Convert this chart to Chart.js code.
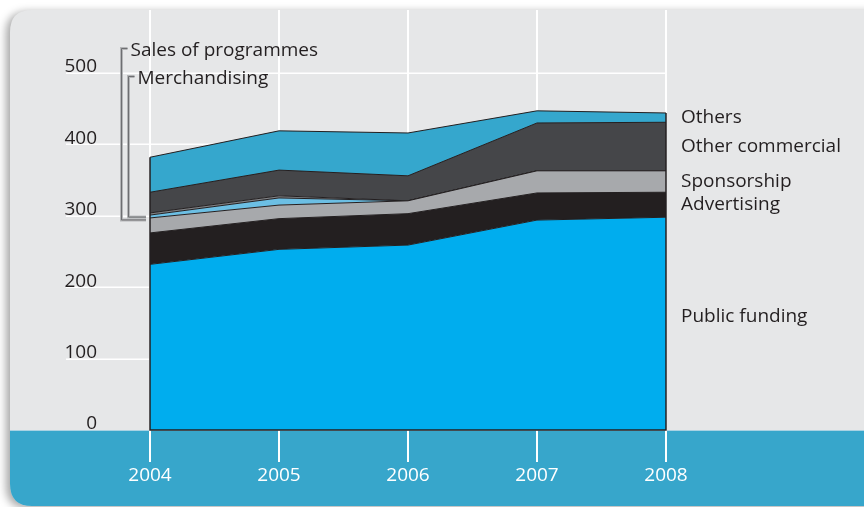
<!DOCTYPE html>
<html>
<head>
<meta charset="utf-8">
<script src="https://cdn.jsdelivr.net/npm/chart.js@4.4.1/dist/chart.umd.min.js"></script>
<style>
  html, body { margin: 0; padding: 0; background: #ffffff; }
  #wrap { position: relative; width: 864px; height: 507px; }
</style>
</head>
<body>
<div id="wrap"><canvas id="c" width="864" height="507"></canvas></div>
<script>
// ---- data ----
const years = ['2004', '2005', '2006', '2007', '2008'];
const publicFunding     = [232, 253, 259, 294, 298];
const advertising       = [44, 43, 44, 38, 35];
const sponsorship       = [21, 19, 18, 31, 30];
const salesOfProgrammes = [4, 10, 0, 0, 0];
const merchandising     = [3, 3, 0, 0, 0];
const otherCommercial   = [29, 36, 35, 67, 68];
const others            = [49, 55, 60, 17, 13];
const yTicks = [0, 100, 200, 300, 400, 500];

const FONT = '"Open Sans", "DejaVu Sans", sans-serif';
const INK = '#231f20';

function ds(label, data, color) {
  return {
    label, data,
    backgroundColor: color,
    borderColor: INK,
    borderWidth: 1,
    pointRadius: 0,
    tension: 0,
    fill: label === 'Public funding' ? 'origin' : '-1'
  };
}

function roundRectPath(ctx, x, y, w, h, r) {
  ctx.beginPath();
  ctx.moveTo(x + r, y);
  ctx.lineTo(x + w - r, y);
  ctx.quadraticCurveTo(x + w, y, x + w, y + r);
  ctx.lineTo(x + w, y + h - r);
  ctx.quadraticCurveTo(x + w, y + h, x + w - r, y + h);
  ctx.lineTo(x + r, y + h);
  ctx.quadraticCurveTo(x, y + h, x, y + h - r);
  ctx.lineTo(x, y + r);
  ctx.quadraticCurveTo(x, y, x + r, y);
  ctx.closePath();
}

const backdrop = {
  id: 'backdrop',
  beforeDraw(chart) {
    const ctx = chart.ctx;
    const area = chart.chartArea;
    const xs = chart.scales.x, ys = chart.scales.y;
    ctx.save();
    ctx.fillStyle = '#ffffff';
    ctx.fillRect(0, 0, chart.width, chart.height);
    // panel with shadow
    ctx.save();
    ctx.shadowColor = 'rgba(0,0,0,0.35)';
    ctx.shadowBlur = 9;
    ctx.shadowOffsetX = -4;
    ctx.shadowOffsetY = 2;
    roundRectPath(ctx, 10, 10, chart.width + 20, chart.height - 11, 22);
    ctx.fillStyle = '#e6e7e8';
    ctx.fill();
    ctx.restore();
    // bottom band
    ctx.save();
    roundRectPath(ctx, 10, 10, chart.width + 20, chart.height - 11, 22);
    ctx.clip();
    ctx.fillStyle = '#37a6cb';
    ctx.fillRect(0, area.bottom, chart.width, chart.height - area.bottom);
    ctx.fillStyle = '#a9d2e3';
    ctx.fillRect(0, area.bottom, chart.width, 1);
    ctx.restore();
    // horizontal grid lines
    ctx.strokeStyle = '#ffffff';
    ctx.lineWidth = 1.5;
    yTicks.forEach(v => {
      if (v === 0) return;
      const y = Math.round(ys.getPixelForValue(v)) + 0.25;
      ctx.beginPath();
      ctx.moveTo(66, y);
      ctx.lineTo(area.right, y);
      ctx.stroke();
    });
    // vertical grid lines + tick marks in band
    ctx.lineWidth = 2;
    years.forEach((yr, i) => {
      const x = Math.round(xs.getPixelForValue(i));
      ctx.beginPath();
      ctx.moveTo(x, 10);
      ctx.lineTo(x, area.bottom + 32);
      ctx.stroke();
    });
    ctx.restore();
  },
  afterDatasetsDraw(chart) {
    const ctx = chart.ctx;
    const area = chart.chartArea;
    const xs = chart.scales.x, ys = chart.scales.y;
    const n = years.length;
    const totals = years.map((_, i) => publicFunding[i] + advertising[i] + sponsorship[i] +
      salesOfProgrammes[i] + merchandising[i] + otherCommercial[i] + others[i]);
    ctx.save();
    ctx.strokeStyle = INK;
    ctx.lineWidth = 1.5;
    const xl = xs.getPixelForValue(0), xr = xs.getPixelForValue(n - 1);
    ctx.beginPath();
    ctx.moveTo(xl, ys.getPixelForValue(totals[0]));
    ctx.lineTo(xl, area.bottom);
    ctx.lineTo(xr, area.bottom);
    ctx.lineTo(xr, ys.getPixelForValue(totals[n - 1]));
    ctx.stroke();

    // right-hand labels at the middle of each layer at the last year
    const last = n - 1;
    const pf = publicFunding[last], ad = advertising[last], sp = sponsorship[last];
    const sm = salesOfProgrammes[last] + merchandising[last];
    const oc = otherCommercial[last], ot = others[last];
    const base = pf + ad + sp + sm;
    const labels = [
      ['Others', base + oc + ot / 2],
      ['Other commercial', base + oc / 2],
      ['Sponsorship', pf + ad + sp / 2],
      ['Advertising', pf + ad / 2],
      ['Public funding', pf * 0.535]
    ];
    ctx.fillStyle = INK;
    ctx.font = '19px ' + FONT;
    ctx.textAlign = 'left';
    ctx.textBaseline = 'middle';
    labels.forEach(([t, v]) => ctx.fillText(t, xr + 15, ys.getPixelForValue(v)));

    // left-hand labels with leader lines into 2004
    const spTop0 = publicFunding[0] + advertising[0] + sponsorship[0];
    const salesY = ys.getPixelForValue(spTop0) + 2;
    const merchY = ys.getPixelForValue(spTop0 + salesOfProgrammes[0]) + 2;
    const leaders = [
      { text: 'Sales of programmes', lx: 121.5, ty: 48.5, endY: salesY },
      { text: 'Merchandising', lx: 128.5, ty: 76.5, endY: merchY }
    ];
    leaders.forEach(L => {
      const path = () => {
        ctx.beginPath();
        ctx.moveTo(L.lx + 6, L.ty);
        ctx.lineTo(L.lx, L.ty);
        ctx.lineTo(L.lx, L.endY);
        ctx.lineTo(xl - 4, L.endY);
      };
      ctx.strokeStyle = '#b4b5b7';
      ctx.lineWidth = 3;
      path(); ctx.stroke();
      ctx.strokeStyle = '#6d6e71';
      ctx.lineWidth = 1;
      path(); ctx.stroke();
      ctx.fillStyle = INK;
      ctx.textAlign = 'left';
      ctx.fillText(L.text, L.lx + 9, L.ty + 2);
    });
    ctx.restore();
  }
};

new Chart(document.getElementById('c'), {
  type: 'line',
  data: {
    labels: years,
    datasets: [
      ds('Public funding', publicFunding, '#00adee'),
      ds('Advertising', advertising, '#231f20'),
      ds('Sponsorship', sponsorship, '#a7a9ac'),
      ds('Sales of programmes', salesOfProgrammes, '#6cbfe4'),
      ds('Merchandising', merchandising, '#808285'),
      ds('Other commercial', otherCommercial, '#454649'),
      ds('Others', others, '#35a7cd')
    ]
  },
  options: {
    responsive: false,
    animation: false,
    layout: { padding: { top: 73, right: 198, left: 0, bottom: 0 } },
    plugins: { legend: { display: false }, tooltip: { enabled: false } },
    scales: {
      x: {
        offset: false,
        grid: { display: false },
        border: { display: false },
        ticks: { color: '#ffffff', font: { family: FONT, size: 19 }, padding: 26, maxRotation: 0 },
        afterFit(s) { s.height = 77; }
      },
      y: {
        stacked: true,
        min: 0, max: 500,
        afterBuildTicks(s) { s.ticks = yTicks.map(v => ({ value: v })); },
        grid: { display: false },
        border: { display: false },
        ticks: { color: INK, font: { family: FONT, size: 19 }, padding: 45, labelOffset: -6 },
        afterFit(s) { s.width = 150; }
      }
    }
  },
  plugins: [backdrop]
});
</script>
</body>
</html>
